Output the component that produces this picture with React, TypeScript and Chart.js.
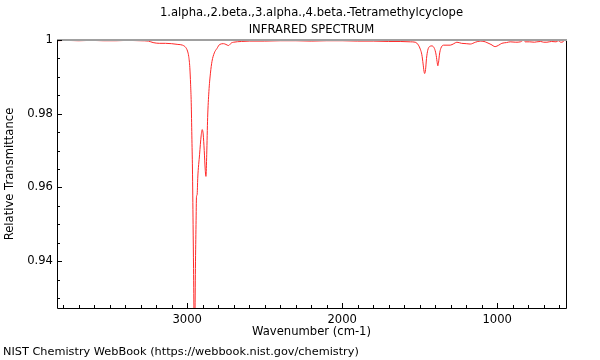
import React, { useEffect, useRef } from "react";
import { Chart, registerables } from "chart.js";

Chart.register(...registerables);

const titleLines = ["1.alpha.,2.beta.,3.alpha.,4.beta.-Tetramethylcyclope", "INFRARED SPECTRUM"];
const xAxisTitle = "Wavenumber (cm-1)";
const yAxisTitle = "Relative Transmittance";
const footerText = "NIST Chemistry WebBook (https://webbook.nist.gov/chemistry)";

const xMajorTicks = [3000, 2000, 1000];
const yMajorTicks = [0.94, 0.96, 0.98, 1.0];

const wavenumbers = [
  3840, 3780, 3700, 3620, 3540, 3460, 3380, 3300, 3250, 3220, 3180, 3140, 3100, 3060, 3030, 3010,
  2998, 2990, 2983, 2978, 2974, 2970, 2966, 2962, 2959, 2956, 2953, 2950, 2947, 2943, 2940, 2936,
  2932, 2920, 2910, 2903, 2897, 2890, 2884, 2879, 2874, 2868, 2860, 2850, 2840, 2825, 2808, 2790,
  2765, 2750, 2734, 2715, 2700, 2650, 2600, 2500, 2400, 2300, 2200, 2100, 2000, 1900, 1800, 1700,
  1626, 1560, 1529, 1508, 1496, 1486, 1478, 1472, 1468, 1462, 1456, 1448, 1437, 1421, 1405, 1395,
  1388, 1383, 1378, 1372, 1364, 1346, 1303, 1280, 1260, 1230, 1200, 1174, 1140, 1110, 1085, 1066,
  1040, 1013, 990, 970, 940, 916, 880, 850, 834, 828, 819, 790, 760, 744, 720, 700,
  679, 650, 620, 605, 590, 575, 565, 556,
];

const transmittance = [
  0.9998, 0.9999, 0.9998, 0.9999, 0.9998, 0.9998, 0.9999, 0.9998, 0.9997, 0.9993, 0.9991, 0.9991, 0.999, 0.9988, 0.9986, 0.998,
  0.997, 0.9955, 0.9925, 0.988, 0.983, 0.974, 0.965, 0.95, 0.938, 0.925, 0.918, 0.924, 0.938, 0.95, 0.9575, 0.958,
  0.9625, 0.969, 0.974, 0.9757, 0.9745, 0.97, 0.965, 0.963, 0.969, 0.979, 0.986, 0.991, 0.9942, 0.9965, 0.9977, 0.9988,
  0.999, 0.9988, 0.9985, 0.9992, 0.9994, 0.9996, 0.9997, 0.9997, 0.9998, 0.9998, 0.9997, 0.9998, 0.9998, 0.9997, 0.9997, 0.9996,
  0.9996, 0.9995, 0.9994, 0.9986, 0.9975, 0.996, 0.9935, 0.9915, 0.9909, 0.992, 0.995, 0.9972, 0.9982, 0.9984, 0.9977, 0.9962,
  0.9942, 0.993, 0.994, 0.9962, 0.9977, 0.9986, 0.9986, 0.999, 0.9994, 0.9991, 0.999, 0.9989, 0.9994, 0.9997, 0.9996, 0.9993,
  0.9988, 0.9982, 0.9986, 0.9991, 0.9993, 0.9995, 0.9994, 0.9995, 0.9999, 1.0, 0.9995, 0.9995, 0.9994, 0.9995, 0.9996, 0.9994,
  0.9994, 0.9996, 0.9995, 0.9998, 0.9994, 0.9995, 1.0, 0.9997,
];

const X_MIN = 556;
const X_MAX = 3840;
const Y_MIN = 0.9273;
const Y_MAX = 1.0;
const FONT = "'DejaVu Sans', sans-serif";
const FS = 11.6;
const FOOTER_FS = 11.3;

const framePlugin = {
  id: "frameAndText",
  afterDraw(chart: any) {
    const { ctx, chartArea } = chart;
    const { left, right, top, bottom } = chartArea;
    const xs = chart.scales.x;
    const ys = chart.scales.y;
    ctx.save();
    ctx.strokeStyle = "#000";
    ctx.lineWidth = 1;
    ctx.beginPath();
    ctx.moveTo(left + 0.5, top);
    ctx.lineTo(left + 0.5, bottom + 0.5);
    ctx.lineTo(right + 0.5, bottom + 0.5);
    ctx.lineTo(right + 0.5, top);
    ctx.stroke();
    ctx.strokeStyle = "#a0a0a0";
    ctx.lineWidth = 2;
    ctx.beginPath();
    ctx.moveTo(left, top);
    ctx.lineTo(right + 1, top);
    ctx.stroke();
    ctx.strokeStyle = "#000";
    ctx.lineWidth = 1;
    ctx.beginPath();
    for (let v = 600; v <= 3800; v += 100) {
      const px = Math.round(xs.getPixelForValue(v)) + 0.5;
      const len = v % 1000 === 0 ? 5 : 3;
      ctx.moveTo(px, bottom);
      ctx.lineTo(px, bottom - len);
    }
    for (let i = 186; i <= 200; i++) {
      const v = i * 0.005;
      const py = Math.round(ys.getPixelForValue(v)) + 0.5;
      const len = i % 4 === 0 ? 5 : 3;
      ctx.moveTo(left, py);
      ctx.lineTo(left + len, py);
    }
    ctx.stroke();
    ctx.fillStyle = "#000";
    ctx.font = `${FS}px ${FONT}`;
    ctx.textAlign = "center";
    ctx.textBaseline = "middle";
    const cx = (left + right) / 2;
    ctx.fillText(titleLines[0], cx, 13);
    ctx.fillText(titleLines[1], cx, 30);
    ctx.fillText(xAxisTitle, cx, 332);
    ctx.save();
    ctx.translate(10, (top + bottom) / 2);
    ctx.rotate(-Math.PI / 2);
    ctx.fillText(yAxisTitle, 0, 0);
    ctx.restore();
    ctx.textAlign = "left";
    ctx.font = `${FOOTER_FS}px ${FONT}`;
    ctx.fillText(footerText, 3, 352);
    ctx.restore();
  },
};

export default function App() {
  const ref = useRef<HTMLCanvasElement>(null);
  useEffect(() => {
    if (!ref.current) return;
    const points = wavenumbers.map((w, i) => ({ x: w, y: transmittance[i] }));
    const chart = new Chart(ref.current, {
      type: "line",
      data: {
        datasets: [
          {
            data: points,
            borderColor: "rgb(255,40,40)",
            borderWidth: 1,
            pointRadius: 0,
            cubicInterpolationMode: "monotone",
            fill: false,
          },
        ],
      },
      options: {
        animation: false,
        responsive: false,
        maintainAspectRatio: false,
        layout: { padding: { top: 40, right: 34, left: 0, bottom: 0 } },
        plugins: { legend: { display: false }, tooltip: { enabled: false }, title: { display: false } },
        scales: {
          x: {
            type: "linear",
            reverse: true,
            min: X_MIN,
            max: X_MAX,
            grid: { display: false, drawTicks: false },
            border: { display: false },
            afterBuildTicks: (scale: any) => {
              scale.ticks = xMajorTicks.map((v) => ({ value: v }));
            },
            afterFit: (scale: any) => {
              scale.height = 52;
            },
            ticks: {
              autoSkip: false,
              maxRotation: 0,
              padding: 5,
              color: "#000",
              font: { family: FONT, size: FS },
              callback: (v: any) => String(v),
            },
          },
          y: {
            type: "linear",
            min: Y_MIN,
            max: Y_MAX,
            grid: { display: false, drawTicks: false },
            border: { display: false },
            afterBuildTicks: (scale: any) => {
              scale.ticks = yMajorTicks.map((v) => ({ value: v }));
            },
            afterFit: (scale: any) => {
              scale.width = 57;
            },
            ticks: {
              autoSkip: false,
              padding: 4,
              color: "#000",
              font: { family: FONT, size: FS },
              callback: (v: any) => String(Number(Number(v).toFixed(2))),
            },
          },
        },
      },
      plugins: [framePlugin],
    });
    return () => chart.destroy();
  }, []);
  return (
    <div style={{ position: "fixed", left: 0, top: 0, width: 600, height: 360, background: "#fff" }}>
      <canvas ref={ref} width={600} height={360} />
    </div>
  );
}
